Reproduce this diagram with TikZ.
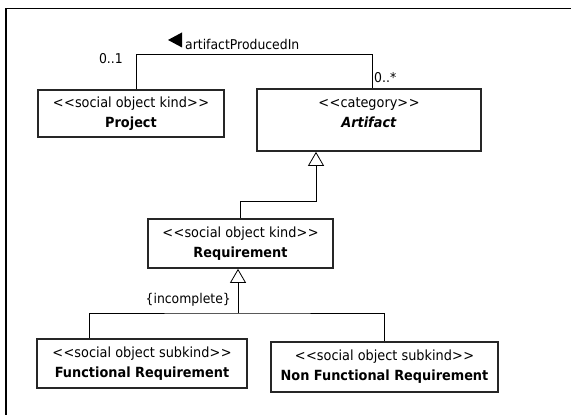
\documentclass[tikz,border=0pt]{standalone}
\usepackage{fontspec}
\setmainfont[FakeStretch=0.92, Ligatures=NoCommon]{DejaVu Sans}
\usepackage{tikz}
\usetikzlibrary{arrows.meta}

\newcommand{\stereo}[1]{<\kern0.5pt<#1>\kern0.5pt>}

\tikzset{
  cls/.style={draw=black!85, line width=1.7pt, fill=white, align=center,
    inner sep=2pt, font=\fontsize{14}{20}\selectfont},
  link/.style={draw=black, line width=0.8pt},
  gen/.style={link, -{Triangle[open, length=14pt, width=16pt, fill=white]}},
  lbl/.style={font=\fontsize{13.5}{16}\selectfont, inner sep=0pt}
}

\begin{document}
\begin{tikzpicture}[x=1pt, y=-1pt]
      \useasboundingbox (0,0) rectangle (571,415);
      % frame
      \draw[line width=1.5pt] (6,415) -- (6,8.5) -- (571,8.5);
      % classes
      \draw (131,113.5) node[cls, minimum width=186pt, minimum height=47pt](project){\stereo{social object kind}\\\textbf{Project}};
      \draw (369,120) node[cls, minimum width=224pt, minimum height=62pt](artifact){\stereo{category}\\\textbf{\textit{Artifact}}\\[-5pt]\mbox{}};
      \draw (240.5,243.5) node[cls, minimum width=185pt, minimum height=49pt](req){\stereo{social object kind}\\\textbf{Requirement}};
      \draw (142,363.5) node[cls, minimum width=210pt, minimum height=49pt](fr){\stereo{social object subkind}\\\textbf{Functional Requirement}};
      \draw (384.5,367) node[cls, minimum width=227pt, minimum height=50pt](nfr){\stereo{social object subkind}\\\textbf{Non Functional Requirement}};
      % association
      \draw[link] ([xshift=5pt]project.north) -- ++(0,-35) coordinate(assoc) -| ([xshift=3pt]artifact.north);
      \node[lbl, anchor=base west](assoclbl) at (185,49) {artifactProducedIn};
      \fill ([xshift=-17pt,yshift=4pt]assoclbl.west) -- ++(14,-7.5) -- ++(0,15) -- cycle;
      \node[lbl, anchor=base east](mult1) at (123,63) {0..1};
      \node[lbl, anchor=base west](mult2) at (374,82) {0..*};
      % generalizations
      \draw[gen] (req.north) -- ++(0,-17) -| ([xshift=-53pt]artifact.south);
      \coordinate (split) at (238,313);
      \draw[gen] (split) -- ([xshift=-2.5pt]req.south);
      \draw[link] ([xshift=-53pt]fr.north) |- (split) -| (nfr.north);
      \node[lbl, anchor=base east](gset) at (231,303) {\{incomplete\}};
    \end{tikzpicture}
\end{document}
